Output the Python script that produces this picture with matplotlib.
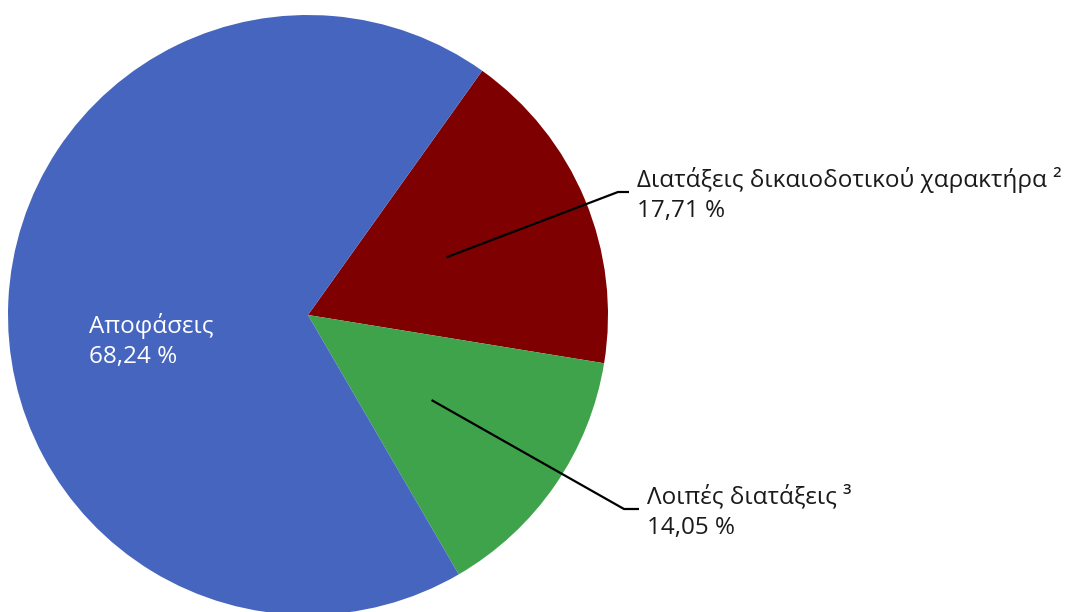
import numpy as np
import matplotlib.pyplot as plt

# data
labels = ['Διατάξεις δικαιοδοτικού χαρακτήρα ²', 'Λοιπές διατάξεις ³', 'Αποφάσεις']
values = [17.71, 14.05, 68.24]
colors = ['#7f0000', '#3fa34c', '#4665bf']

plt.rcParams['font.family'] = ['Open Sans', 'DejaVu Sans']

W, H = 1070, 612
fig = plt.figure(figsize=(W / 100, H / 100), dpi=100)
ax = fig.add_axes([0, 0, 1, 1])

cx, cy, r = 308, H - 315, 300
wedges, _ = ax.pie(values, colors=colors, startangle=54.5, counterclock=False,
                   center=(cx, cy), radius=r, frame=True,
                   wedgeprops=dict(linewidth=0))
ax.set_xlim(0, W)
ax.set_ylim(0, H)
ax.set_aspect('equal')
ax.axis('off')


def fmt(v):
    return f'{v:.2f}'.replace('.', ',') + ' %'


# label positions (image pixels): text left/center, elbow of leader line
lab_pos = [(637, 195), (647, 512), (89, 341)]
elbows = [(618, 192), (624, 509), None]

for w, lab, v, (tx, ty), elb in zip(wedges, labels, values, lab_pos, elbows):
    col = 'white' if elb is None else '#1a1a1a'
    ax.text(tx, H - ty, f'{lab}\n{fmt(v)}', ha='left', va='center',
            fontsize=17.5, color=col, linespacing=1.38)
    if elb is not None:
        mid = np.deg2rad((w.theta1 + w.theta2) / 2)
        sx, sy = cx + 0.5 * r * np.cos(mid), cy + 0.5 * r * np.sin(mid)
        ex, ey = elb
        ax.plot([sx, ex, tx - 8], [sy, H - ey, H - ey], color='black', lw=1.6,
                solid_capstyle='butt')

fig.savefig('out.png', dpi=100)
